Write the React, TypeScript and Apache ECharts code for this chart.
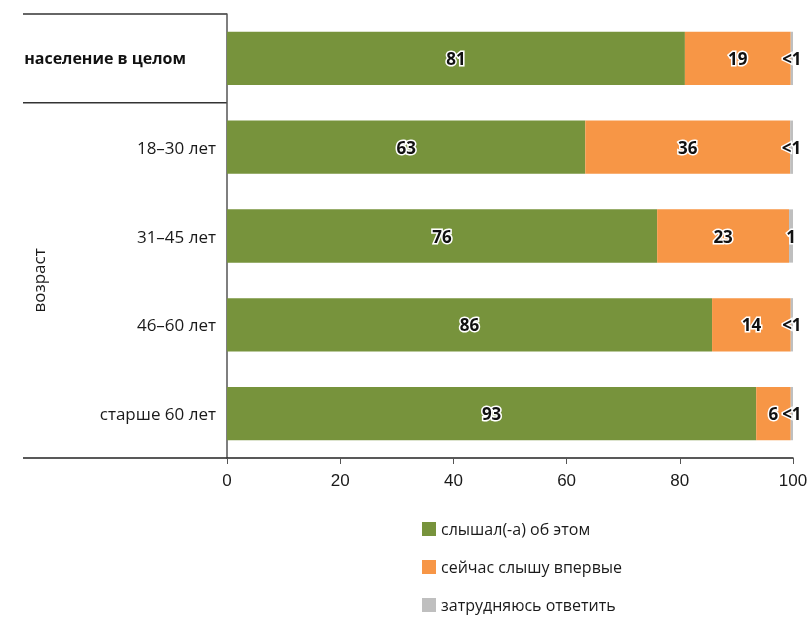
import React, { useEffect, useRef } from "react";
import * as echarts from "echarts";

const categories = ["население в целом", "18–30 лет", "31–45 лет", "46–60 лет", "старше 60 лет"];
const heard = [80.9, 63.3, 76.0, 85.7, 93.5];
const firstTime = [18.7, 36.2, 23.3, 13.9, 6.1];
const hardToSay = [0.4, 0.5, 0.7, 0.4, 0.4];
const heardLabels = ["81", "63", "76", "86", "93"];
const firstTimeLabels = ["19", "36", "23", "14", "6"];
const hardLabels = ["<1", "<1", "1", "<1", "<1"];
const seriesNames = ["слышал(-а) об этом", "сейчас слышу впервые", "затрудняюсь ответить"];
const xTicks = [0, 20, 40, 60, 80, 100];

const FONT = "'Open Sans', 'Noto Sans', sans-serif";
const GRID = { left: 227, right: 18, top: 14, bottom: 161 };

export default function App() {
  const ref = useRef<HTMLDivElement>(null);
  useEffect(() => {
    if (!ref.current) return;
    const chart = echarts.init(ref.current, null, { renderer: "svg" });
    const H = 619;
    const gridTop = GRID.top;
    const gridBottom = H - GRID.bottom;
    const band = (gridBottom - gridTop) / categories.length;
    const labelStyle = {
      show: true,
      position: "inside" as const,
      color: "#111",
      fontFamily: FONT,
      fontWeight: "bold" as const,
      fontSize: 17,
      textBorderColor: "#fff",
      textBorderWidth: 3,
    };
    const mk = (name: string, data: number[], labels: string[], color: string) => ({
      name,
      type: "bar",
      stack: "total",
      barWidth: "60%",
      data,
      itemStyle: { color },
      label: { ...labelStyle, formatter: (p: any) => labels[p.dataIndex] },
    });
    chart.setOption({
      animation: false,
      textStyle: { fontFamily: FONT },
      grid: { ...GRID, containLabel: false },
      xAxis: {
        type: "value",
        min: xTicks[0],
        max: xTicks[xTicks.length - 1],
        interval: 20,
        axisLine: { show: true, lineStyle: { color: "#222", width: 1.5 } },
        axisTick: { show: true, length: 6, lineStyle: { color: "#555" } },
        splitLine: { show: false },
        axisLabel: { fontSize: 17, color: "#1a1a1a", margin: 14, fontFamily: "'Liberation Sans', Arial, sans-serif" },
      },
      yAxis: {
        type: "category",
        data: categories,
        inverse: true,
        axisLine: { show: true, lineStyle: { color: "#555", width: 1.5 } },
        axisTick: { show: false },
        axisLabel: {
          fontSize: 17,
          color: "#1a1a1a",
          margin: 11,
          fontFamily: FONT,
          formatter: (v: string, i: number) => (i === 0 ? `{b|${v}}` : v),
          rich: {
            b: { fontSize: 16, fontWeight: "bold", color: "#111", fontFamily: FONT, padding: [0, 30, 0, 0] },
          },
        },
      },
      legend: {
        orient: "vertical",
        left: 417,
        top: 516,
        height: 200,
        itemWidth: 14,
        itemHeight: 14,
        itemGap: 22,
        icon: "rect",
        textStyle: { fontSize: 16, lineHeight: 16, color: "#1a1a1a", fontFamily: FONT },
        data: seriesNames,
      },
      series: [
        mk(seriesNames[0], heard, heardLabels, "#77933C"),
        mk(seriesNames[1], firstTime, firstTimeLabels, "#F79646"),
        mk(seriesNames[2], hardToSay, hardLabels, "#BFBFBF"),
      ],
      graphic: [
        { type: "line", shape: { x1: 23, y1: gridTop, x2: GRID.left, y2: gridTop }, style: { stroke: "#333", lineWidth: 1.5 } },
        { type: "line", shape: { x1: 23, y1: gridTop + band, x2: GRID.left, y2: gridTop + band }, style: { stroke: "#333", lineWidth: 1.5 } },
        { type: "line", shape: { x1: 23, y1: gridBottom, x2: GRID.left, y2: gridBottom }, style: { stroke: "#222", lineWidth: 1.5 } },
        {
          type: "text",
          x: 38,
          y: (gridTop + band + gridBottom) / 2,
          rotation: Math.PI / 2,
          style: { text: "возраст", fontSize: 17, fill: "#1a1a1a", fontFamily: FONT, align: "center", verticalAlign: "middle" },
        },
      ],
    });
    return () => chart.dispose();
  }, []);
  return <div ref={ref} style={{ position: "fixed", left: 0, top: 0, width: 811, height: 619 }} />;
}
